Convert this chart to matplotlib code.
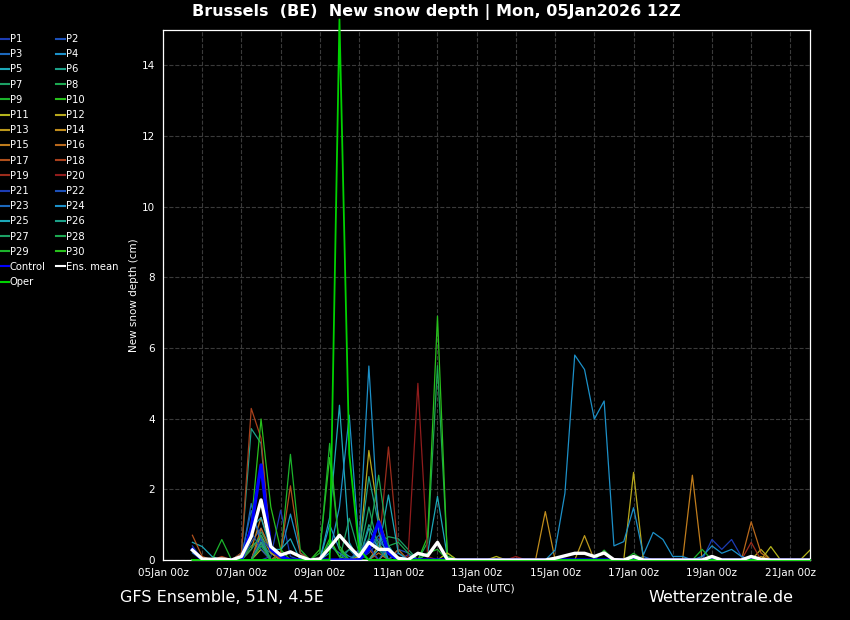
import numpy as np
import matplotlib
matplotlib.use("Agg")
import matplotlib.pyplot as plt
import matplotlib.dates as mdates

# 6-hourly forecast steps, 05Jan 18z .. 21Jan 12z
times = np.arange(np.datetime64("2026-01-05T18:00"), np.datetime64("2026-01-21T18:00"),
                  np.timedelta64(6, "h"))

# new snow depth (cm) per member
p01 = [0.4, 0, 0, 0, 0, 0, 0, 0, 0.1, 1.41, 0.1, 0, 0, 0, 0, 0,
       0, 0, 0.2, 0.5, 0.3, 0, 0.15, 0, 0, 0, 0, 0, 0, 0, 0, 0,
       0, 0, 0, 0, 0, 0, 0, 0, 0, 0, 0, 0, 0, 0, 0, 0,
       0, 0, 0, 0, 0, 0, 0, 0, 0, 0, 0, 0, 0, 0, 0, 0]
p02 = [0, 0, 0, 0, 0, 0, 0.5, 0.9, 0.2, 0, 0, 0, 0, 0, 0, 0,
       0, 0.2, 0.6, 0.4, 0, 0.3, 0.2, 0, 0, 0, 0, 0, 0, 0, 0, 0,
       0, 0, 0, 0, 0, 0, 0, 0, 0, 0, 0, 0, 0, 0, 0, 0,
       0, 0, 0, 0, 0, 0, 0, 0, 0, 0, 0, 0, 0, 0, 0, 0]
p03 = [0.2, 0, 0, 0, 0, 0, 1.6, 0.4, 0.2, 0, 0, 0, 0, 0, 0, 0,
       0.3, 0, 0.3, 0.7, 0.4, 0, 0, 0, 0, 0, 0, 0, 0, 0, 0, 0,
       0, 0, 0, 0, 0, 0, 0, 0, 0, 0, 0, 0, 0, 0, 0.1, 0,
       0, 0, 0, 0, 0, 0, 0, 0, 0, 0, 0, 0, 0, 0, 0, 0]
p04 = [0, 0, 0, 0, 0, 0, 0, 0, 0, 0.2, 1.3, 0.2, 0, 0, 1.0, 0.3,
       0.1, 0, 0.9, 0.3, 0, 0, 0, 0, 0, 0, 0, 0, 0, 0, 0, 0,
       0, 0, 0, 0, 0, 0, 0, 0, 0, 0, 0, 0, 0, 0, 0, 0,
       0, 0, 0, 0, 0, 0, 0, 0, 0, 0, 0, 0, 0, 0, 0, 0]
p05 = [0.5, 0.38, 0.1, 0, 0, 0, 0, 0, 0, 0, 0, 0, 0, 0, 1.2, 4.38,
       0.5, 0, 0, 0, 0.3, 0, 0, 0, 0.2, 1.8, 0.1, 0, 0, 0, 0, 0,
       0, 0, 0, 0, 0, 0, 0, 0, 0, 0, 0, 0, 0, 0, 0, 0,
       0, 0, 0, 0, 0, 0, 0, 0, 0, 0, 0, 0, 0, 0, 0, 0]
p06 = [0.3, 0, 0, 0, 0, 0.2, 3.72, 3.3, 0.2, 0, 0, 0, 0, 0, 0, 0,
       0, 0, 1.0, 0.5, 0, 0, 0, 0, 0, 0, 0, 0, 0, 0, 0, 0,
       0, 0, 0, 0, 0, 0, 0, 0, 0, 0, 0, 0, 0, 0, 0, 0,
       0, 0, 0, 0, 0, 0, 0, 0, 0, 0, 0, 0, 0, 0, 0, 0]
p07 = [0, 0, 0, 0, 0, 0, 0, 0.8, 0.3, 0, 0, 0, 0, 0, 0, 0,
       1.18, 0.2, 0, 0.4, 0.66, 0.6, 0.3, 0, 0, 0, 0, 0, 0, 0, 0, 0,
       0, 0, 0, 0, 0, 0, 0, 0, 0, 0, 0, 0, 0, 0, 0, 0,
       0, 0, 0, 0, 0, 0, 0, 0, 0, 0, 0, 0, 0, 0, 0, 0]
p08 = [0, 0, 0, 0, 0, 0, 0.4, 0.6, 0, 0, 0, 0, 0, 0, 0, 0,
       0, 0, 0, 0, 0, 0, 0, 0, 0.5, 5.5, 0.2, 0, 0, 0, 0, 0,
       0, 0, 0, 0, 0, 0, 0, 0, 0, 0, 0, 0, 0, 0, 0, 0,
       0, 0, 0, 0, 0, 0, 0, 0, 0, 0, 0, 0, 0, 0, 0, 0]
p09 = [0, 0, 0, 0.58, 0, 0, 0, 0, 0, 0.1, 2.99, 0.3, 0, 0, 0, 0,
       0, 0, 0, 0, 0, 0, 0, 0, 0, 0, 0, 0, 0, 0, 0, 0,
       0, 0, 0, 0, 0, 0, 0, 0, 0, 0, 0.28, 0, 0, 0.19, 0, 0,
       0, 0, 0, 0, 0, 0, 0, 0, 0, 0, 0, 0, 0, 0, 0, 0]
p10 = [0, 0, 0, 0, 0, 0, 0, 0, 0, 0, 0, 0, 0, 0.3, 2.9, 0.4,
       0, 0, 0, 0, 0, 0, 0, 0, 0.66, 6.9, 0.1, 0, 0, 0, 0, 0,
       0, 0, 0, 0, 0, 0, 0, 0, 0, 0, 0, 0, 0, 0, 0, 0,
       0, 0, 0, 0, 0, 0, 0, 0, 0, 0, 0, 0, 0, 0, 0, 0]
p11 = [0, 0, 0, 0, 0, 0, 0, 0.3, 0, 0, 0, 0, 0, 0, 0, 0,
       0, 0, 0, 0, 0, 0, 0, 0, 0, 0, 0.2, 0, 0, 0, 0, 0.1,
       0, 0, 0, 0, 0, 0, 0, 0, 0, 0, 0, 0, 0, 0, 0, 0,
       0, 0, 0, 0, 0, 0, 0, 0, 0, 0, 0, 0.38, 0, 0, 0, 0.28]
p12 = [0, 0, 0, 0, 0, 0, 0, 0, 0, 0, 0, 0, 0, 0, 0, 0,
       0, 0.1, 3.1, 1.2, 0.3, 0, 0, 0, 0, 0, 0, 0, 0, 0, 0, 0,
       0, 0, 0, 0, 0, 0, 0, 0, 0, 0, 0, 0, 0, 2.48, 0, 0,
       0, 0, 0, 0, 0, 0, 0, 0, 0, 0, 0.3, 0, 0, 0, 0, 0]
p13 = [0, 0, 0, 0, 0, 0, 0, 0.5, 0, 0, 0, 0, 0, 0, 0, 0,
       0, 0, 0, 0.4, 0.2, 0, 0, 0, 0, 0, 0, 0, 0, 0, 0, 0,
       0, 0, 0, 0, 0, 0, 0, 0, 0.69, 0, 0, 0, 0, 0, 0, 0,
       0, 0, 0, 0, 0, 0, 0, 0, 0, 0, 0, 0, 0, 0, 0, 0]
p14 = [0, 0, 0, 0, 0, 0, 0, 0.7, 0.2, 0, 0, 0, 0, 0, 0, 0,
       0, 0, 0, 0, 0, 0, 0, 0, 0, 0, 0, 0, 0, 0, 0, 0,
       0, 0, 0, 0, 1.37, 0, 0, 0, 0, 0, 0, 0, 0, 0, 0, 0,
       0, 0, 0, 0, 0, 0, 0, 0, 0, 0, 0.1, 0, 0, 0, 0, 0]
p15 = [0, 0, 0, 0, 0, 0, 0.3, 1.2, 0.4, 0, 0, 0, 0, 0, 0, 0,
       0, 0, 0, 0, 0.3, 0, 0, 0, 0, 0, 0, 0, 0, 0, 0, 0,
       0, 0, 0, 0, 0, 0, 0, 0, 0, 0, 0, 0, 0, 0, 0, 0,
       0, 0, 0, 2.4, 0, 0, 0, 0, 0, 0, 0, 0, 0, 0, 0, 0]
p16 = [0, 0, 0, 0, 0, 0, 0, 0.9, 0.3, 0, 0, 0, 0, 0, 0, 0,
       0, 0, 0, 0.2, 0, 0.3, 0, 0, 0, 0, 0, 0, 0, 0, 0, 0,
       0, 0, 0, 0, 0, 0, 0, 0, 0, 0, 0, 0, 0, 0, 0, 0,
       0, 0, 0, 0, 0, 0, 0, 0, 0, 1.08, 0.2, 0, 0, 0, 0, 0]
p17 = [0.7, 0.1, 0, 0, 0, 0, 0, 0, 0, 0.2, 2.1, 0.2, 0, 0, 0, 0,
       0, 0, 0.3, 0, 0, 0, 0, 0, 0, 0, 0, 0, 0, 0, 0, 0,
       0, 0, 0, 0, 0, 0, 0, 0, 0, 0, 0, 0, 0, 0, 0, 0,
       0, 0, 0, 0, 0, 0, 0, 0, 0, 0, 0, 0, 0, 0, 0, 0]
p18 = [0, 0, 0, 0.1, 0, 0.2, 4.29, 3.45, 0.3, 0, 0, 0, 0, 0, 0, 0,
       0, 0, 0, 0, 0, 0, 0, 0, 0, 0, 0, 0, 0, 0, 0, 0,
       0, 0, 0, 0, 0, 0, 0, 0, 0, 0, 0, 0, 0, 0, 0, 0,
       0, 0, 0, 0, 0, 0, 0, 0, 0, 0, 0, 0, 0, 0, 0, 0]
p19 = [0, 0, 0, 0, 0, 0, 0, 0, 0, 0, 0, 0, 0, 0, 0, 0,
       0, 0, 0, 0.3, 3.2, 0.2, 0, 0, 0, 0, 0, 0, 0, 0, 0, 0,
       0, 0, 0, 0, 0, 0, 0, 0, 0, 0, 0, 0, 0, 0, 0, 0,
       0, 0, 0, 0, 0, 0, 0, 0, 0, 0.5, 0, 0, 0, 0, 0, 0]
p20 = [0, 0, 0, 0, 0, 0, 0, 0, 0, 0, 0, 0, 0, 0, 0, 0,
       0, 0, 0, 0, 0, 0, 0.1, 5.0, 0.1, 0, 0, 0, 0, 0, 0, 0,
       0, 0.1, 0, 0, 0, 0, 0, 0, 0, 0, 0, 0, 0, 0, 0, 0,
       0, 0, 0, 0, 0, 0, 0, 0, 0, 0, 0, 0, 0, 0, 0, 0]
p21 = [0, 0, 0, 0, 0, 0, 0, 0.6, 0.3, 0.1, 0, 0, 0, 0, 0, 0,
       0, 0, 0.4, 0, 0, 0.2, 0, 0, 0, 0, 0, 0, 0, 0, 0, 0,
       0, 0, 0, 0, 0, 0, 0, 0, 0, 0, 0, 0, 0, 0, 0, 0,
       0, 0, 0, 0, 0, 0.58, 0.3, 0.58, 0.1, 0, 0, 0, 0, 0, 0, 0]
p22 = [0, 0, 0, 0, 0, 0, 0.8, 0.3, 0, 0, 0, 0, 0, 0, 0, 0,
       0, 0.3, 0.5, 0.6, 0.2, 0, 0, 0, 0, 0, 0, 0, 0, 0, 0, 0,
       0, 0, 0, 0, 0, 0, 0, 0, 0, 0, 0, 0, 0, 0, 0, 0,
       0, 0, 0, 0, 0, 0, 0, 0, 0, 0, 0, 0, 0, 0, 0, 0]
p23 = [0, 0, 0, 0, 0, 0.1, 1.4, 0.6, 0, 0, 0, 0, 0, 0, 0.4, 0.2,
       0, 0, 0, 0, 0.4, 0, 0, 0, 0, 0, 0, 0, 0, 0, 0, 0,
       0, 0, 0, 0, 0, 0, 0, 0, 0, 0, 0, 0, 0, 0, 0, 0,
       0, 0, 0, 0, 0, 0, 0, 0, 0, 0, 0, 0, 0, 0, 0, 0]
p24 = [0, 0, 0, 0, 0, 0, 0, 0, 0, 0, 0, 0, 0, 0, 0.2, 1.5,
       4.1, 0.4, 5.49, 0.8, 0, 0, 0, 0, 0, 0, 0, 0, 0, 0, 0, 0,
       0, 0, 0, 0, 0, 0.28, 1.89, 5.8, 5.39, 3.99, 4.5, 0.4, 0.52, 1.48, 0.14, 0.78,
       0.58, 0.1, 0.1, 0, 0.1, 0.4, 0.19, 0.3, 0.1, 0, 0, 0, 0, 0, 0, 0]
p25 = [0, 0, 0, 0, 0, 0, 0.9, 1.2, 0.3, 0.3, 0.6, 0, 0, 0, 0, 0,
       0, 0, 0, 0.3, 1.84, 0.2, 0, 0, 0, 0, 0, 0, 0, 0, 0, 0,
       0, 0, 0, 0, 0, 0, 0, 0, 0, 0, 0, 0, 0, 0, 0, 0,
       0, 0, 0, 0, 0, 0, 0, 0, 0, 0, 0, 0, 0, 0, 0, 0]
p26 = [0, 0, 0, 0, 0, 0, 0, 0.5, 0, 0, 0, 0, 0, 0, 0, 0,
       0, 0.2, 2.36, 1.0, 0.4, 0, 0, 0, 0, 0, 0, 0, 0, 0, 0, 0,
       0, 0, 0, 0, 0, 0, 0, 0, 0, 0, 0, 0, 0, 0, 0, 0,
       0, 0, 0, 0, 0, 0, 0, 0, 0, 0, 0, 0, 0, 0, 0, 0]
p27 = [0, 0, 0, 0, 0, 0, 0.3, 0.7, 0, 0, 0, 0, 0, 0, 0.5, 0.1,
       0.3, 0.1, 1.5, 0.3, 0, 0, 0, 0, 0, 0, 0, 0, 0, 0, 0, 0,
       0, 0, 0, 0, 0, 0, 0, 0, 0, 0, 0, 0, 0, 0, 0, 0,
       0, 0, 0, 0, 0, 0, 0, 0, 0, 0, 0, 0, 0, 0, 0, 0]
p28 = [0, 0, 0, 0, 0, 0, 0, 0.4, 0, 0, 0, 0, 0, 0, 0, 0,
       0, 0, 0.6, 2.4, 0.4, 0.5, 0.2, 0, 0, 0, 0, 0, 0, 0, 0, 0,
       0, 0, 0, 0, 0, 0, 0, 0, 0, 0, 0, 0, 0, 0, 0, 0,
       0, 0, 0, 0, 0, 0, 0, 0, 0, 0, 0, 0, 0, 0, 0, 0]
p29 = [0, 0, 0, 0, 0, 0, 0, 0, 0, 0, 0, 0, 0, 0.2, 3.3, 0.3,
       0, 0, 0, 0, 0, 0, 0, 0, 0.2, 0.3, 0, 0, 0, 0, 0, 0,
       0, 0, 0, 0, 0, 0, 0, 0, 0, 0, 0, 0, 0, 0, 0, 0,
       0, 0, 0, 0, 0.3, 0, 0, 0, 0, 0, 0, 0, 0, 0, 0, 0]
p30 = [0, 0, 0, 0, 0, 0, 1.0, 3.99, 1.5, 0.3, 0, 0, 0, 0, 0.6, 0.1,
       0, 0, 0, 0, 0, 0, 0, 0, 0, 0, 0, 0, 0, 0, 0, 0,
       0, 0, 0, 0, 0, 0, 0, 0, 0, 0, 0, 0, 0, 0, 0, 0,
       0, 0, 0, 0, 0, 0, 0, 0, 0, 0, 0, 0, 0, 0, 0, 0]
control = [0.3, 0, 0, 0, 0, 0, 0.9, 2.69, 0.3, 0.1, 0, 0, 0, 0, 0, 0,
           0, 0, 0.3, 1.08, 0.2, 0, 0, 0, 0, 0, 0, 0, 0, 0, 0, 0,
           0, 0, 0, 0, 0, 0, 0, 0, 0, 0, 0, 0, 0, 0, 0, 0,
           0, 0, 0, 0, 0, 0, 0, 0, 0, 0, 0, 0, 0, 0, 0, 0]
oper = [0, 0, 0, 0, 0, 0, 0, 0, 0, 0, 0, 0, 0, 0, 0, 15.3,
        3.0, 0.3, 0, 0, 0, 0, 0, 0, 0, 0, 0, 0, 0, 0, 0, 0,
        0, 0, 0, 0, 0, 0, 0, 0, 0, 0, 0, 0, 0, 0, 0, 0,
        0, 0, 0, 0, 0, 0, 0, 0, 0, 0, 0, 0, 0, 0, 0, 0]
ens_mean = [0.28, 0.03, 0.02, 0.03, 0, 0.1, 0.66, 1.70, 0.38, 0.14, 0.23, 0.1, 0, 0.03, 0.35, 0.7,
            0.38, 0.1, 0.5, 0.3, 0.3, 0.05, 0.01, 0.19, 0.12, 0.5, 0.02, 0, 0, 0, 0, 0,
            0, 0, 0, 0, 0, 0.05, 0.12, 0.19, 0.19, 0.1, 0.2, 0.01, 0, 0.1, 0, 0,
            0, 0, 0, 0, 0, 0.1, 0, 0, 0, 0.1, 0.02, 0, 0, 0, 0, 0]

members = [p01, p02, p03, p04, p05, p06, p07, p08, p09, p10,
           p11, p12, p13, p14, p15, p16, p17, p18, p19, p20,
           p21, p22, p23, p24, p25, p26, p27, p28, p29, p30]

# colours cycle over 20 perturbations, P21-P30 reuse P1-P10
palette = ["#1c3cb4", "#1c50b8", "#1c68bc", "#1c90c8", "#1ca8b8",
           "#1ca088", "#1ca064", "#1ca850", "#1cb42c", "#28c01c",
           "#b4b41c", "#b8a81c", "#bc981c", "#c08c1c", "#c07c1c",
           "#b8681c", "#b0501c", "#a8401c", "#9c2c1c", "#901c1c"]

fig = plt.figure(figsize=(8.5, 6.2), dpi=100, facecolor="black")
ax = fig.add_axes([163 / 850, 60 / 620, 647 / 850, 530 / 620])
ax.set_facecolor("black")

handles = {}
for k, vals in enumerate(members):
    h, = ax.plot(times, vals, color=palette[k % 20], lw=0.9, label=f"P{k + 1}")
    handles[k + 1] = h
h_ctrl, = ax.plot(times, control, color="#0000ff", lw=2.4, label="Control")
# oper sits over the bottom spine and is not clipped at the top
h_oper, = ax.plot(times, oper, color="#00d200", lw=1.3, label="Oper", clip_on=False, zorder=3)
h_mean, = ax.plot(times, ens_mean, color="white", lw=2.4, label="Ens. mean", zorder=4)

ax.set_xlim(np.datetime64("2026-01-05T00:00"), np.datetime64("2026-01-21T12:00"))
ax.set_ylim(0, 15)
ax.set_yticks(range(0, 15, 2))
ax.xaxis.set_major_locator(mdates.DayLocator(bymonthday=range(5, 22, 2)))
ax.xaxis.set_minor_locator(mdates.DayLocator())
ax.xaxis.set_major_formatter(mdates.DateFormatter("%d%b %Hz"))
ax.grid(which="both", color="#3a3a3a", linestyle="--", linewidth=0.8)
ax.tick_params(which="both", length=0, colors="white", labelsize=7.5, pad=6)
for sp in ax.spines.values():
    sp.set_color("white")
    sp.set_linewidth(0.9)

ax.set_ylabel("New snow depth (cm)", color="white", fontsize=7.5, labelpad=2)
ax.set_xlabel("Date (UTC)", color="white", fontsize=7.5, labelpad=4)

# legend: row-major P1 P2 / P3 P4 ..., matplotlib fills columns first
col1 = [handles[i] for i in range(1, 31, 2)] + [h_ctrl, h_oper]
col2 = [handles[i] for i in range(2, 31, 2)] + [h_mean]
leg = fig.legend(handles=col1 + col2, loc="upper left", bbox_to_anchor=(0.0, 1 - 34 / 620),
                 ncol=2, frameon=False, fontsize=7.2, handlelength=0.9, handletextpad=0.1,
                 columnspacing=1.05, labelspacing=0.52, borderpad=0, borderaxespad=0)
for t in leg.get_texts():
    t.set_color("white")
for line in leg.get_lines():
    line.set_linewidth(1.5)

fig.text(0.513, 0.98, "Brussels  (BE)  New snow depth | Mon, 05Jan2026 12Z",
         color="white", fontsize=11.5, fontweight="bold", ha="center", va="center")
fig.text(120 / 850, 1 - 598 / 620, "GFS Ensemble, 51N, 4.5E", color="white",
         fontsize=11.5, ha="left", va="center")
fig.text(793 / 850, 1 - 598 / 620, "Wetterzentrale.de", color="white",
         fontsize=11.5, ha="right", va="center")

fig.savefig("out.png", dpi=100, facecolor="black")
